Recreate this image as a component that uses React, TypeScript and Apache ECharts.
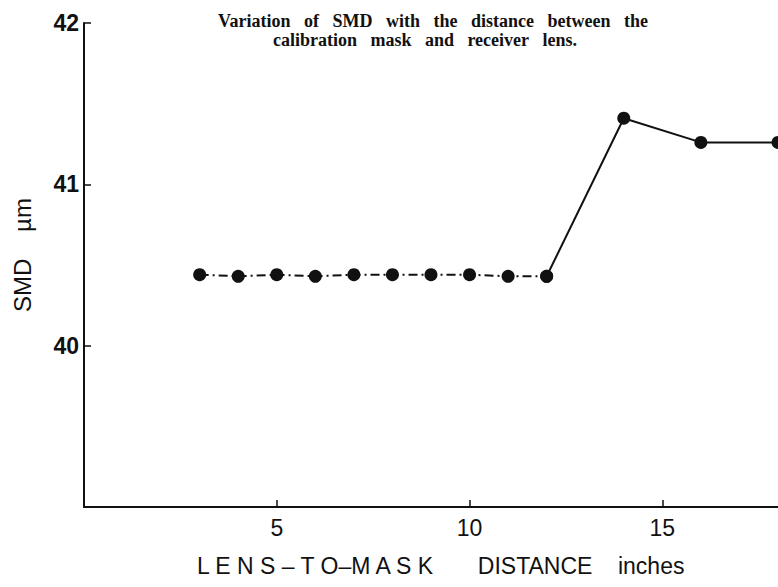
import React, { useEffect, useRef } from "react";
import * as echarts from "echarts";

const distances = [3, 4, 5, 6, 7, 8, 9, 10, 11, 12];
const smdFlat = [40.44, 40.43, 40.44, 40.43, 40.44, 40.44, 40.44, 40.44, 40.43, 40.43];
const distancesFar = [12, 14, 16, 18];
const smdFar = [40.43, 41.41, 41.26, 41.26];
const xTicks = [5, 10, 15];
const yTicks = [40, 41, 42];
const titleLines = [
  "Variation\u00A0\u00A0 of\u00A0\u00A0 SMD\u00A0\u00A0 with\u00A0\u00A0 the\u00A0\u00A0 distance\u00A0\u00A0 between\u00A0\u00A0 the",
  "calibration\u00A0\u00A0 mask\u00A0\u00A0 and\u00A0\u00A0 receiver\u00A0\u00A0 lens.",
];
const xName =
  "L E N S \u2013 T O\u2013M A S K\u00A0\u00A0\u00A0\u00A0\u00A0\u00A0 DISTANCE\u00A0\u00A0\u00A0 inches";
const yName = "SMD\u00A0\u00A0\u00A0 \u00B5m";

export default function App() {
  const ref = useRef<HTMLDivElement>(null);
  useEffect(() => {
    if (!ref.current) return;
    const chart = echarts.init(ref.current, undefined, { renderer: "svg" });
    const black = "#111";
    const titleStyle = {
      fontFamily: "Liberation Serif",
      fontWeight: "bold",
      fontSize: 18,
      fill: black,
      align: "center",
      verticalAlign: "middle",
    };
    chart.setOption({
      animation: false,
      backgroundColor: "#fff",
      grid: { left: 84, top: 23, width: 697, height: 484, containLabel: false },
      graphic: [
        { type: "text", x: 433, y: 21, style: { ...titleStyle, text: titleLines[0] } },
        { type: "text", x: 425, y: 40, style: { ...titleStyle, text: titleLines[1] } },
        {
          type: "text",
          x: 197,
          y: 566,
          style: {
            text: xName,
            fontFamily: "Liberation Sans",
            fontSize: 23,
            fill: black,
            align: "left",
            verticalAlign: "middle",
          },
        },
        {
          type: "text",
          x: 22,
          y: 255,
          rotation: Math.PI / 2,
          style: {
            text: yName,
            fontFamily: "Liberation Sans",
            fontSize: 24,
            fill: black,
            align: "center",
            verticalAlign: "middle",
          },
        },
      ],
      xAxis: {
        type: "value",
        min: 0,
        max: 18,
        interval: 5,
        axisLine: { lineStyle: { color: black, width: 2 } },
        axisTick: { inside: true, length: 7, customValues: xTicks, lineStyle: { color: black, width: 1.5 } },
        axisLabel: {
          customValues: xTicks,
          margin: 9,
          fontFamily: "Liberation Sans",
          fontSize: 23,
          color: black,
        },
        splitLine: { show: false },
      },
      yAxis: {
        type: "value",
        min: 39,
        max: 42,
        interval: 1,
        axisLine: { lineStyle: { color: black, width: 2 } },
        axisTick: { inside: true, length: 7, customValues: yTicks, lineStyle: { color: black, width: 1.5 } },
        axisLabel: {
          customValues: yTicks,
          margin: 5,
          fontFamily: "Liberation Sans",
          fontWeight: "bold",
          fontSize: 23,
          color: black,
        },
        splitLine: { show: false },
      },
      series: [
        {
          type: "line",
          data: distances.map((d, i) => [d, smdFlat[i]]),
          symbol: "circle",
          symbolSize: 13,
          itemStyle: { color: black },
          lineStyle: { color: black, width: 2, type: [9, 4, 2, 4] },
          clip: false,
        },
        {
          type: "line",
          data: distancesFar.map((d, i) => [d, smdFar[i]]),
          symbol: "circle",
          symbolSize: 13,
          itemStyle: { color: black },
          lineStyle: { color: black, width: 2 },
          clip: false,
        },
      ],
    });
    return () => chart.dispose();
  }, []);
  return <div ref={ref} style={{ position: "fixed", left: 0, top: 0, width: 778, height: 587 }} />;
}
